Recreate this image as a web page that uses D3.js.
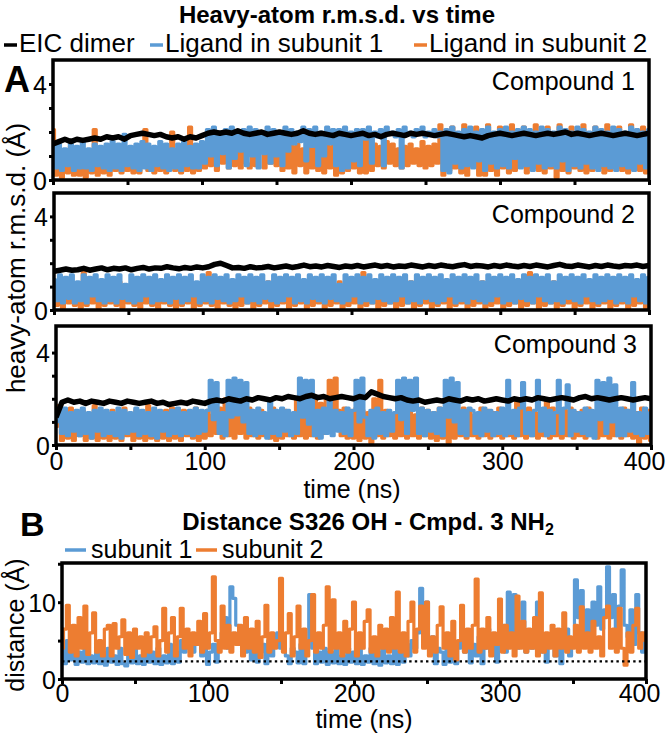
<!DOCTYPE html>
<html><head><meta charset="utf-8">
<script src="https://cdn.jsdelivr.net/npm/d3@7"></script>
<style>
html,body{margin:0;padding:0;background:#fff;}
svg{display:block;font-family:"Liberation Sans",Arial,sans-serif;}
</style></head>
<body>
<svg id="chart" width="669" height="734"></svg>
<script>
// ---------------- DATA ----------------
const timeDomain = [0, 400];
const xTicks = [0, 50, 100, 150, 200, 250, 300, 350, 400];
const xTickLabels = [0, 100, 200, 300, 400];
const rmsdTicks = [0, 1, 2, 3, 4];
const rmsdTickLabels = [0, 4];
const distTicks = [0, 5, 10, 15];
const distTickLabels = [0, 10];
const compounds = ["Compound 1", "Compound 2", "Compound 3"];
const legendA = ["EIC dimer", "Ligand in subunit 1", "Ligand in subunit 2"];
const legendB = ["subunit 1", "subunit 2"];
const distCutoff = 2.3;

// Compound 1 (black: every 4 ns; ligands: every 2 ns)
const c1Dimer = [1.5,1.6,1.7,1.6,1.7,1.65,1.7,1.75,1.7,1.8,1.75,1.8,1.7,1.85,1.9,1.95,1.9,1.85,1.9,1.8,
1.75,1.8,1.7,1.8,1.75,1.85,1.95,2.0,1.95,2.0,1.95,2.05,1.95,1.9,1.95,2.0,1.9,1.95,2.0,1.95,
1.9,1.95,2.05,1.95,1.9,1.95,1.9,1.85,1.95,1.9,1.85,1.9,1.95,1.85,1.9,1.8,1.9,1.95,1.9,1.85,
1.95,1.9,1.95,1.9,1.85,1.9,1.95,1.9,1.85,1.8,1.85,1.8,1.75,1.85,1.9,1.95,1.9,1.85,1.9,1.95,
1.9,1.85,1.9,1.95,1.9,1.95,2.0,1.9,1.95,1.9,1.85,1.9,1.95,1.9,1.85,1.9,1.95,1.9,1.85,1.9,1.95];
const c1Sub1 = [1.4,0.5,1.5,0.4,1.3,0.6,1.5,0.4,1.4,0.5,
1.6,0.5,1.3,0.4,1.5,0.6,1.4,0.5,1.5,0.4,
1.6,0.5,1.5,0.4,1.9,0.6,1.4,0.5,1.5,0.4,
1.6,0.5,1.5,0.4,1.4,0.6,1.6,0.5,1.5,0.4,
1.3,0.5,1.5,0.4,1.6,0.6,1.4,0.5,1.5,0.5,
1.6,0.7,2.1,1.0,2.2,0.6,2.0,1.1,2.1,0.5,
2.2,0.9,2.0,1.2,2.1,0.6,2.2,1.0,2.1,0.5,
2.0,1.1,2.2,0.7,2.1,1.0,2.0,0.6,2.2,1.2,
2.1,1.5,2.0,1.6,2.2,0.8,2.1,1.4,2.2,0.6,
2.0,1.0,2.2,1.5,2.1,0.6,2.1,0.4,2.2,0.5,
2.0,0.8,2.1,0.6,2.1,1.7,2.2,0.7,2.0,1.8,
2.1,0.6,2.2,1.9,2.0,1.8,2.1,0.5,2.2,1.9,
2.0,1.8,2.1,1.9,2.2,1.8,2.0,1.9,2.1,1.8,
2.0,0.4,2.1,0.3,2.2,0.7,2.0,0.5,2.1,0.6,
2.2,0.5,2.0,0.8,2.1,0.4,2.2,0.7,2.0,0.5,
2.1,0.6,2.2,0.5,2.0,0.9,2.1,0.5,2.2,0.6,
2.1,0.4,2.0,0.7,2.2,0.5,2.1,0.6,2.0,0.5,
2.2,0.8,2.1,0.4,2.0,0.6,2.2,0.5,2.1,0.7,
2.0,0.5,2.2,0.4,2.1,0.6,2.0,0.5,2.2,0.4,
2.1,0.6,2.0,0.5,2.2,0.4,2.1,0.7,2.0,0.5,2.1];
const c1Sub2 = [2.1,0.2,1.3,0.1,1.2,0.3,1.4,0.2,1.1,0.2,
1.3,0.1,1.2,0.3,2.1,0.2,1.0,0.3,1.2,0.2,
1.3,0.4,1.2,0.3,1.1,0.4,1.2,0.3,1.4,0.3,
1.2,2.1,0.4,1.3,0.3,1.2,0.4,1.3,0.3,1.1,
2.0,0.4,1.2,0.3,1.3,0.4,2.2,0.3,1.2,0.4,
1.3,0.5,1.4,0.6,1.5,0.4,1.3,0.7,1.6,0.5,
1.4,0.6,1.5,0.5,1.6,0.7,0.5,1.4,0.6,1.5,
1.3,0.5,1.6,0.7,1.4,0.6,1.5,0.4,1.6,0.5,
1.4,0.3,1.5,0.6,1.3,0.3,1.6,0.5,1.4,0.4,
1.5,0.3,1.6,0.5,1.4,0.2,1.3,0.3,1.5,0.4,
1.3,0.5,1.6,0.3,1.9,0.3,1.8,0.4,1.5,0.6,
1.4,0.5,1.6,0.7,1.5,0.6,1.3,0.5,1.4,0.6,
1.5,0.7,1.3,0.6,1.6,0.5,1.4,0.6,1.5,0.7,
2.3,0.2,1.6,0.4,2.2,0.5,1.4,0.3,2.3,0.2,
1.5,0.6,2.2,0.2,1.6,0.2,2.3,0.4,1.5,0.2,
2.2,0.5,1.6,0.3,2.3,0.4,1.5,0.6,2.2,0.3,
1.6,0.5,2.3,0.4,1.5,0.3,2.2,0.5,1.6,0.1,
2.3,0.4,1.6,0.3,2.2,0.5,1.5,0.4,2.3,0.3,
1.6,0.4,2.2,0.5,1.5,0.3,2.3,0.4,1.6,0.5,
2.2,0.4,1.5,0.3,2.3,0.5,1.6,0.4,2.2,0.3,1.6];

// Compound 2
const c2Dimer = [1.65,1.7,1.75,1.7,1.72,1.78,1.7,1.75,1.8,1.72,
1.78,1.75,1.8,1.72,1.78,1.82,1.75,1.8,1.78,1.85,
1.8,1.76,1.82,1.78,1.84,1.8,1.85,1.95,2.0,1.9,
1.8,1.82,1.78,1.85,1.8,1.82,1.86,1.8,1.84,1.88,
1.82,1.86,1.92,1.85,1.88,1.84,1.9,1.86,1.82,1.88,
1.85,1.9,1.84,1.88,1.92,1.86,1.9,1.84,1.88,1.86,
1.92,1.88,1.84,1.9,1.86,1.92,1.88,1.85,1.9,1.94,
1.86,1.9,1.88,1.84,1.9,1.86,1.92,1.88,1.85,1.9,
1.86,1.92,1.88,1.84,1.9,1.95,1.88,1.86,1.92,1.88,
1.84,1.9,1.86,1.92,1.88,1.85,1.9,1.88,1.92,1.86,1.9];
const c2Sub1 = [1.3,0.4,1.5,0.3,1.4,0.5,1.5,0.3,1.2,0.4,
1.5,0.3,1.4,0.6,1.5,0.4,1.3,0.3,1.5,0.4,
1.4,0.3,1.5,0.5,1.1,0.4,1.5,0.3,1.4,0.4,
1.5,0.6,1.4,0.3,1.5,0.4,1.3,0.4,1.5,0.3,
1.4,0.5,1.5,0.3,1.4,0.4,1.5,0.6,1.2,0.3,
1.5,0.4,1.4,0.3,1.5,0.5,1.4,0.4,1.5,0.3,
1.3,0.4,1.5,0.6,1.4,0.3,1.5,0.4,1.4,0.3,
1.5,0.5,1.2,0.4,1.5,0.3,1.4,0.4,1.5,0.6,
1.4,0.3,1.5,0.4,1.3,0.3,1.5,0.5,1.4,0.4,
1.5,0.3,1.4,0.5,1.5,0.4,1.1,0.3,1.5,0.4,
1.4,0.6,1.5,0.3,1.4,0.4,1.5,0.3,1.3,0.5,
1.5,0.4,1.4,0.3,1.5,0.4,1.4,0.6,1.5,0.3,
1.2,0.4,1.5,0.3,1.4,0.5,1.5,0.4,1.4,0.3,
1.5,0.4,1.3,0.6,1.5,0.3,1.4,0.4,1.5,0.3,
1.4,0.5,1.5,0.4,1.2,0.3,1.5,0.4,1.4,0.6,
1.5,0.3,1.4,0.4,1.5,0.3,1.3,0.5,1.5,0.4,
1.4,0.3,1.5,0.6,1.4,0.4,1.5,0.3,1.2,0.4,
1.5,0.3,1.4,0.5,1.5,0.4,1.4,0.3,1.5,0.6,
1.3,0.4,1.5,0.3,1.4,0.4,1.5,0.5,1.4,0.3,
1.5,0.4,1.4,0.3,1.5,0.6,1.3,0.4,1.5,0.3,1.4];
const c2Sub2 = [1.2,0.2,1.0,0.1,1.3,0.3,0.9,0.2,1.1,0.1,
1.6,0.2,1.0,0.3,1.2,0.1,0.9,0.2,1.1,0.3,
1.0,0.2,1.2,0.1,0.9,0.3,1.1,0.2,1.0,0.1,
1.2,0.3,1.0,0.2,1.1,0.1,0.9,0.3,1.2,0.2,
1.0,0.1,1.1,0.2,1.2,0.3,0.9,0.1,1.0,0.2,
1.1,0.3,1.6,0.2,1.0,0.1,1.2,0.3,0.9,0.2,
1.1,0.1,1.0,0.2,1.2,0.3,0.9,0.1,1.1,0.2,
1.0,0.3,1.2,0.1,0.9,0.2,1.1,0.3,1.0,0.1,
1.2,0.2,0.9,0.3,1.1,0.1,1.0,0.2,1.2,0.3,
0.9,0.1,1.1,0.2,1.0,0.3,1.2,0.1,0.9,0.2,
1.1,0.3,1.0,0.1,1.6,0.2,0.9,0.3,1.1,0.1,
1.0,0.2,1.2,0.3,0.9,0.1,1.1,0.2,1.0,0.3,
1.2,0.1,0.9,0.2,1.1,0.3,1.0,0.1,1.2,0.2,
0.9,0.3,1.1,0.1,1.0,0.2,1.2,0.3,0.9,0.1,
1.1,0.2,1.0,0.3,1.2,0.1,0.9,0.2,1.1,0.3,
1.0,0.1,1.2,0.2,0.9,0.3,1.1,0.1,1.0,0.2,
1.6,0.3,0.9,0.1,1.1,0.2,1.0,0.3,1.2,0.1,
0.9,0.2,1.1,0.3,1.0,0.1,1.2,0.2,0.9,0.3,
1.1,0.1,1.0,0.2,1.2,0.3,0.9,0.1,1.1,0.2,
1.0,0.3,1.2,0.1,0.9,0.2,1.1,0.3,1.0,0.1,1.2];

// Compound 3
const c3Dimer = [1.2,1.85,1.95,1.85,1.9,1.8,1.9,1.85,1.8,1.9,
1.85,1.8,1.9,1.85,1.8,1.85,1.9,1.8,1.85,1.75,
1.8,1.85,1.8,1.9,1.85,1.8,1.9,1.95,1.9,2.0,
1.95,1.9,2.0,1.95,2.05,2.0,1.95,2.05,2.0,2.1,
2.05,2.0,2.1,2.15,2.05,2.1,2.0,2.05,2.1,2.05,
2.0,2.1,2.05,2.3,2.2,2.1,2.05,2.0,2.05,1.95,
1.9,1.95,1.85,1.9,1.95,1.9,2.0,1.95,1.9,2.0,
1.95,2.0,1.9,1.95,2.0,1.95,1.9,2.0,1.95,2.0,
1.95,2.05,2.0,1.95,2.0,2.05,2.0,1.95,2.05,2.1,
2.0,2.05,2.0,1.95,2.0,2.05,2.0,1.95,2.0,2.05,2.0];
const c3Sub1 = [1.0,1.5,0.5,1.6,0.4,1.4,0.6,1.5,0.4,1.6,
0.5,1.4,0.3,1.5,0.6,1.6,0.4,1.5,0.5,1.4,
0.4,1.6,0.3,1.5,0.5,1.4,0.6,1.6,0.4,1.5,
0.5,1.4,0.4,1.6,0.3,1.5,0.6,1.4,0.4,1.5,
0.5,1.6,0.4,1.4,0.5,1.5,0.4,1.6,0.5,1.5,
0.6,1.5,2.8,1.1,2.7,0.5,1.4,0.4,2.8,1.2,
2.9,1.3,2.8,1.0,2.7,0.5,1.5,0.4,1.6,0.5,
1.4,0.3,2.0,0.5,1.5,0.4,1.6,0.6,1.5,0.4,
1.4,0.5,2.9,1.2,2.8,0.9,2.8,0.4,1.5,0.3,
1.6,0.5,2.0,0.4,1.5,0.6,1.4,0.5,1.6,0.4,
1.5,2.8,1.0,2.9,1.2,0.4,1.5,0.3,1.6,0.5,
1.4,0.4,1.5,0.6,1.4,2.8,1.1,2.9,0.5,2.8,
1.5,2.9,0.5,1.6,0.4,1.5,0.6,1.4,0.5,1.6,
0.4,2.8,1.2,2.9,1.0,2.7,0.5,1.5,0.4,1.6,
1.5,0.5,1.4,0.4,1.6,0.6,1.5,0.4,1.4,0.5,
1.6,0.4,2.8,0.5,1.5,0.4,1.6,2.7,0.5,1.4,
0.4,1.5,2.8,0.6,1.6,0.4,1.5,0.5,1.4,2.8,
0.5,1.6,2.6,0.4,1.5,0.6,1.4,0.5,1.6,0.4,
1.5,0.3,2.8,1.1,2.7,0.5,2.9,1.0,2.6,0.4,
1.6,0.4,1.5,0.6,2.7,0.5,1.4,0.4,1.6,0.5,1.4];
const c3Sub2 = [0.8,1.7,0.2,1.3,0.3,1.6,0.2,1.2,0.4,1.5,
0.2,1.3,0.3,1.7,0.2,1.4,0.3,1.2,0.2,1.5,
0.3,1.3,0.2,1.6,0.4,1.2,0.2,1.5,0.3,1.3,
0.2,1.7,0.3,1.4,0.2,1.2,0.3,1.5,0.2,1.6,
0.3,1.3,0.2,1.5,0.4,1.2,0.3,1.6,0.2,1.4,
0.3,1.5,0.4,1.3,0.5,1.6,0.3,2.0,0.4,1.9,
0.3,2.0,0.5,1.4,0.3,1.6,0.4,1.3,0.3,1.5,
0.4,1.2,0.3,1.6,0.2,1.4,0.3,1.5,0.4,1.3,
0.3,2.0,0.4,1.5,0.3,1.9,0.4,2.1,0.3,1.8,
0.5,2.0,2.8,1.0,2.9,1.5,0.4,1.6,0.3,1.5,
0.3,1.6,0.2,1.5,0.3,1.4,0.1,2.0,0.4,2.8,
0.3,1.5,0.4,1.3,0.3,1.6,0.4,1.4,0.3,1.5,
0.4,1.3,0.3,1.6,0.4,1.5,0.3,1.4,0.2,1.6,
0.3,1.5,0.1,2.1,0.3,1.4,0.4,1.6,0.3,1.5,
0.4,1.3,0.3,1.6,0.4,1.5,0.3,1.4,0.4,1.6,
0.3,1.5,0.4,1.3,0.3,2.0,0.4,1.5,0.3,1.6,
0.4,1.4,0.3,1.5,0.4,2.0,0.3,1.6,0.4,1.3,
0.3,1.5,0.4,1.6,0.3,1.4,0.4,1.5,0.3,1.6,
0.4,1.3,0.3,1.5,0.4,1.6,0.3,1.4,0.4,1.5,
0.3,1.6,0.4,1.5,0.3,1.4,0.1,1.6,0.3,1.5,0.2];

// Panel B: distance S326 OH - Cmpd. 3 NH2 (every 2 ns)
const distSub1 = [6.5,2.0,5.0,2.5,4.0,1.9,3.5,2.2,5.0,2.0,
3.0,2.1,4.5,2.0,3.5,1.8,4.0,2.2,3.0,1.9,
4.0,2.0,1.7,3.5,2.1,4.5,2.0,3.0,1.9,4.0,
2.2,3.5,2.0,4.0,1.9,3.0,2.1,4.5,2.0,3.5,
2.2,5.0,3.5,4.0,5.0,3.5,4.5,5.5,3.0,4.0,
1.9,3.5,4.5,2.2,5.0,6.0,8.0,4.0,12.0,10.5,
7.0,4.5,6.0,3.5,5.0,2.5,4.0,2.2,3.5,4.5,
2.0,5.0,3.0,4.5,6.0,4.0,5.5,3.0,2.0,4.0,
3.5,2.1,4.5,2.0,5.0,11.0,4.0,2.0,3.5,2.2,
4.0,1.9,3.5,2.1,4.5,2.0,3.0,1.9,4.0,2.2,
3.5,2.0,4.5,1.9,3.0,2.2,4.0,2.0,3.5,1.8,
4.5,2.1,3.0,2.0,4.0,1.9,3.5,2.2,4.5,3.0,
5.0,4.0,6.0,11.8,5.0,10.0,4.0,5.5,2.0,4.0,
3.5,1.9,4.5,2.2,3.0,2.0,4.0,6.0,3.5,5.0,
2.1,4.5,3.0,5.5,2.0,4.0,6.5,3.5,5.0,2.2,
4.5,7.0,3.5,11.3,5.0,11.0,4.0,6.5,10.0,3.5,
5.5,4.0,6.0,10.0,3.5,5.0,2.2,4.5,6.0,3.0,
5.5,2.0,4.0,6.5,3.0,5.0,12.9,8.0,11.5,6.0,
9.0,5.5,10.0,7.0,12.0,6.5,9.0,14.6,8.0,11.0,
6.5,9.5,14.2,7.0,5.5,9.0,4.5,11.0,6.0,3.5,5.0];
const distSub2 = [4.0,6.5,9.6,3.5,7.0,3.0,8.0,4.0,9.5,3.2,
6.0,8.6,3.5,5.0,3.0,6.5,7.0,3.0,7.2,4.0,
5.5,7.7,3.2,6.0,2.8,6.5,4.0,5.5,3.0,6.0,
3.5,5.5,6.8,3.0,5.0,9.2,3.5,6.0,8.0,3.0,
5.5,9.2,4.0,6.5,3.0,6.0,4.5,7.5,3.5,8.5,
4.0,6.0,13.3,5.0,3.5,9.5,4.0,7.0,3.5,6.0,
4.5,7.0,3.0,8.0,4.0,6.5,3.5,7.5,2.8,5.5,
9.6,3.5,6.0,4.0,5.0,13.1,3.5,6.0,8.5,3.0,
5.5,9.5,4.0,6.5,3.0,5.0,11.0,3.5,6.0,4.0,
7.0,12.0,3.5,10.3,4.0,6.0,3.0,7.5,3.5,6.5,
10.0,3.0,6.0,4.0,7.5,9.0,3.5,5.5,3.0,7.0,
4.0,6.5,3.5,8.0,4.0,11.3,3.5,6.0,3.0,7.5,
10.0,3.5,6.5,9.5,4.0,10.0,3.0,5.5,3.5,7.0,
9.4,4.0,6.0,3.0,7.5,2.5,5.0,9.6,3.5,6.5,
4.0,7.0,13.0,3.5,6.5,4.0,8.0,3.0,6.0,4.5,
10.4,3.5,7.0,4.0,6.0,3.0,10.8,4.0,7.5,3.5,
6.5,4.0,8.0,3.0,11.2,3.5,6.0,4.0,7.0,3.0,
6.5,4.0,8.6,3.5,5.5,4.0,7.0,3.5,9.4,4.0,
6.0,3.5,7.5,4.0,5.5,3.0,8.0,9.5,4.0,6.5,
3.5,9.2,4.0,1.8,6.0,3.5,7.0,9.2,4.0,6.0,5.0];

// ---------------- DRAWING ----------------
const COL_BLACK = "#000000", COL_BLUE = "#5b9bd5", COL_ORANGE = "#ed7d31";
const FONT = 25;
const svg = d3.select("#chart");

function timeOf(arr) {
  const step = (timeDomain[1] - timeDomain[0]) / (arr.length - 1);
  return arr.map((v, i) => ({t: timeDomain[0] + i * step, v}));
}

function drawPanel(cfg) {
  const x = d3.scaleLinear().domain(timeDomain).range([cfg.left, cfg.right]);
  const y = d3.scaleLinear().domain([0, cfg.ymax]).range([cfg.bottom, cfg.top]);
  const g = svg.append("g");
  const cid = "clip" + cfg.id;
  svg.append("clipPath").attr("id", cid).append("rect")
    .attr("x", cfg.left).attr("y", cfg.top)
    .attr("width", cfg.right - cfg.left).attr("height", cfg.bottom - cfg.top);
  const plot = g.append("g").attr("clip-path", `url(#${cid})`);
  cfg.series.forEach(s => {
    const line = d3.line().x(d => x(d.t)).y(d => y(d.v))
      .curve(s.step ? d3.curveStep : d3.curveLinear);
    plot.append("path").datum(timeOf(s.data))
      .attr("fill", "none").attr("stroke", s.color)
      .attr("stroke-width", s.width).attr("stroke-linejoin", "round")
      .attr("d", line);
  });
  if (cfg.cutoff !== undefined) {
    plot.append("line").attr("x1", cfg.left).attr("x2", cfg.right)
      .attr("y1", y(cfg.cutoff)).attr("y2", y(cfg.cutoff))
      .attr("stroke", "#000").attr("stroke-width", 2.4)
      .attr("stroke-dasharray", "2.4,3.2");
  }
  const xa = g.append("g").attr("transform", `translate(0,${cfg.bottom})`)
    .call(d3.axisBottom(x).tickValues(xTicks).tickSize(5).tickPadding(cfg.xPad)
      .tickFormat(d => (cfg.showX && xTickLabels.includes(d)) ? d : ""));
  const ya = g.append("g").attr("transform", `translate(${cfg.left},0)`)
    .call(d3.axisLeft(y).tickValues(cfg.yTicks).tickSize(4).tickPadding(2)
      .tickFormat(d => cfg.yLabels.includes(d) ? d : ""));
  [xa, ya].forEach(a => {
    a.select(".domain").remove();
    a.selectAll(".tick line").attr("stroke", "#000").attr("stroke-width", 3);
    a.selectAll(".tick text").attr("fill", "#000")
      .style("font-size", FONT + "px").style("font-family", '"Liberation Sans",Arial,sans-serif');
  });
  ya.selectAll(".tick text").attr("dy", "0.36em");
  xa.selectAll(".tick text").filter(d => d === 400).attr("dx", -7);
  g.append("rect").attr("x", cfg.left).attr("y", cfg.top)
    .attr("width", cfg.right - cfg.left).attr("height", cfg.bottom - cfg.top)
    .attr("fill", "none").attr("stroke", "#000").attr("stroke-width", 3.5);
  if (cfg.label) {
    g.append("text").attr("x", cfg.right - 14).attr("y", cfg.labelY)
      .attr("text-anchor", "end").style("font-size", FONT + "px").text(cfg.label);
  }
}

const aSeries = [
  [c1Dimer, c1Sub1, c1Sub2], [c2Dimer, c2Sub1, c2Sub2], [c3Dimer, c3Sub1, c3Sub2]
];
const aLayout = [
  {left: 53, right: 649, top: 60, bottom: 180, labelY: 90, ymax: 5},
  {left: 54, right: 649, top: 193, bottom: 310, labelY: 223, ymax: 5},
  {left: 56, right: 651, top: 326, bottom: 445, labelY: 353, ymax: 5.15}
];
aLayout.forEach((L, i) => {
  drawPanel(Object.assign({}, L, {
    id: "A" + i,
    showX: i === 2, xPad: 2,
    yTicks: rmsdTicks, yLabels: rmsdTickLabels,
    label: compounds[i],
    series: [
      {data: aSeries[i][2], color: COL_ORANGE, width: 3.2, step: true},
      {data: aSeries[i][1], color: COL_BLUE, width: 3.2, step: true},
      {data: aSeries[i][0], color: COL_BLACK, width: 5.5}
    ]
  }));
});

drawPanel({
  id: "B", left: 62, right: 646, top: 563, bottom: 679, ymax: 15.1,
  showX: true, xPad: 0, yTicks: distTicks, yLabels: distTickLabels,
  cutoff: distCutoff,
  series: [
    {data: distSub1, color: COL_BLUE, width: 3.2, step: true},
    {data: distSub2, color: COL_ORANGE, width: 3.2, step: true}
  ]
});

// titles, legends, labels
svg.append("text").attr("x", 337).attr("y", 23).attr("text-anchor", "middle")
  .style("font-size", "24px").style("font-weight", "bold").text("Heavy-atom r.m.s.d. vs time");

const legA = [
  {x: 4, color: COL_BLACK, text: legendA[0]},
  {x: 150, color: COL_BLUE, text: legendA[1]},
  {x: 414, color: COL_ORANGE, text: legendA[2]}
];
legA.forEach(l => {
  svg.append("line").attr("x1", l.x).attr("x2", l.x + 13).attr("y1", 45).attr("y2", 45)
    .attr("stroke", l.color).attr("stroke-width", 3.5);
  svg.append("text").attr("x", l.x + 15).attr("y", 52).style("font-size", "26px").text(l.text);
});

svg.append("text").attr("x", 4).attr("y", 92).style("font-size", "36px")
  .style("font-weight", "bold").text("A");
svg.append("text").attr("x", 20).attr("y", 536).style("font-size", "34px")
  .style("font-weight", "bold").text("B");

svg.append("text").attr("transform", "translate(25,258) rotate(-90)")
  .attr("text-anchor", "middle").style("font-size", "26px").text("heavy-atom r.m.s.d. (Å)");
svg.append("text").attr("x", 352).attr("y", 498).attr("text-anchor", "middle")
  .style("font-size", FONT + "px").text("time (ns)");

const tB = svg.append("text").attr("x", 368).attr("y", 530).attr("text-anchor", "middle")
  .style("font-size", "24px").style("font-weight", "bold");
tB.append("tspan").text("Distance S326 OH - Cmpd. 3 NH");
tB.append("tspan").attr("dy", 5).style("font-size", "16px").text("2");

const legB = [
  {x: 65, color: COL_BLUE, text: legendB[0]},
  {x: 196, color: COL_ORANGE, text: legendB[1]}
];
legB.forEach(l => {
  svg.append("line").attr("x1", l.x).attr("x2", l.x + 21).attr("y1", 550).attr("y2", 550)
    .attr("stroke", l.color).attr("stroke-width", 3.5);
  svg.append("text").attr("x", l.x + 26).attr("y", 558).style("font-size", FONT + "px").text(l.text);
});

svg.append("text").attr("transform", "translate(24,625) rotate(-90)")
  .attr("text-anchor", "middle").style("font-size", "25px").text("distance (Å)");
svg.append("text").attr("x", 364).attr("y", 728).attr("text-anchor", "middle")
  .style("font-size", FONT + "px").text("time (ns)");
</script>
</body></html>
